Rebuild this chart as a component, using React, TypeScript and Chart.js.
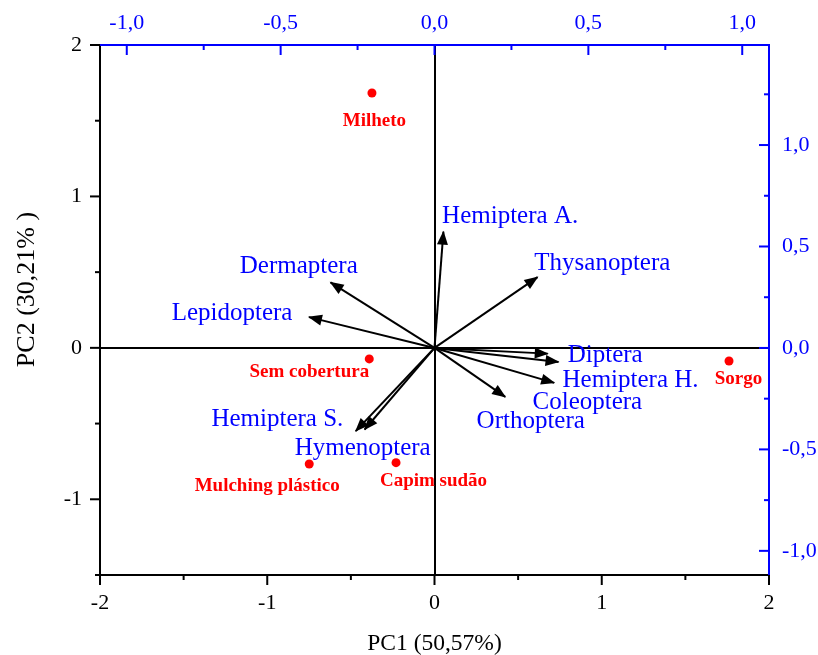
import React, { useEffect, useRef } from 'react';
import { Chart, registerables } from 'chart.js';

Chart.register(...registerables);

// ---- data ----
const treatments = ['Milheto', 'Sem cobertura', 'Sorgo', 'Mulching plástico', 'Capim sudão'];
const pc1Scores = [-0.374, -0.39, 1.761, -0.749, -0.23];
const pc2Scores = [1.683, -0.073, -0.087, -0.767, -0.758];

const variables = [
  'Hemiptera A.', 'Thysanoptera', 'Dermaptera', 'Lepidoptera', 'Diptera',
  'Coleoptera', 'Hemiptera H.', 'Orthoptera', 'Hemiptera S.', 'Hymenoptera',
];
const pc1Loadings = [0.029, 0.335, -0.338, -0.408, 0.368, 0.403, 0.389, 0.23, -0.256, -0.227];
const pc2Loadings = [0.573, 0.349, 0.323, 0.152, -0.028, -0.069, -0.172, -0.241, -0.41, -0.402];

const bottomTicks = [-2, -1, 0, 1, 2];
const leftTicks = [-1, 0, 1, 2];
const topTicks = [-1, -0.5, 0, 0.5, 1];
const rightTicks = [-1, -0.5, 0, 0.5, 1];

const xTitle = 'PC1 (50,57%)';
const yTitle = 'PC2 (30,21% )';

// ---- label placement (pixel offsets from mark) ----
const varLabelOffsets = [
  [-1.3, -9], [-3.3, -7.3], [-90.7, -9.7], [-137.3, 2.7], [20, 8.7],
  [-26, 47], [8.3, 4], [-28.7, 31], [-144.3, -5], [-70, 25],
];
const treatLabelOffsets = [[2.5, 33], [-60, 17.7], [9.5, 23.3], [-42, 26.7], [37.5, 23]];

const FONT = "'Liberation Serif', 'Times New Roman', serif";
const BLUE = '#0000ff';
const RED = '#ff0000';

function drawAxisTicks(ctx: CanvasRenderingContext2D, scale: any, step: number, major: number,
  edge: number, dir: number, color: string, horizontal: boolean) {
  const ratio = Math.round(major / step);
  const k0 = Math.ceil(scale.min / step - 1e-9);
  const k1 = Math.floor(scale.max / step + 1e-9);
  ctx.save();
  ctx.strokeStyle = color;
  ctx.lineWidth = 2;
  for (let k = k0; k <= k1; k++) {
    const v = k * step;
    const len = k % ratio === 0 ? 10 : 5;
    const p = scale.getPixelForValue(v);
    ctx.beginPath();
    if (horizontal) {
      ctx.moveTo(p, edge);
      ctx.lineTo(p, edge + dir * len);
    } else {
      ctx.moveTo(edge, p);
      ctx.lineTo(edge + dir * len, p);
    }
    ctx.stroke();
  }
  ctx.restore();
}

const annotate = {
  id: 'annotate',
  afterDatasetsDraw(chart: any) {
    const ctx = chart.ctx as CanvasRenderingContext2D;
    variables.forEach((_, i) => {
      const meta = chart.getDatasetMeta(i + 1);
      const p0 = meta.data[0];
      const p1 = meta.data[1];
      const ang = Math.atan2(p1.y - p0.y, p1.x - p0.x);
      ctx.save();
      ctx.fillStyle = '#000';
      ctx.translate(p1.x, p1.y);
      ctx.rotate(ang);
      ctx.beginPath();
      ctx.moveTo(1, 0);
      ctx.lineTo(-13, -5.5);
      ctx.lineTo(-13, 5.5);
      ctx.closePath();
      ctx.fill();
      ctx.restore();
    });
  },
  afterDraw(chart: any) {
    const ctx = chart.ctx as CanvasRenderingContext2D;
    const area = chart.chartArea;
    const s = chart.scales;
    drawAxisTicks(ctx, s.x, 0.5, 1, area.bottom, 1, '#000', true);
    drawAxisTicks(ctx, s.y, 0.5, 1, area.left, -1, '#000', false);
    drawAxisTicks(ctx, s.x2, 0.25, 0.5, area.top, 1, BLUE, true);
    drawAxisTicks(ctx, s.y2, 0.25, 0.5, area.right, -1, BLUE, false);

    // variable labels
    ctx.save();
    ctx.font = `25px ${FONT}`;
    ctx.fillStyle = BLUE;
    ctx.textAlign = 'left';
    ctx.textBaseline = 'alphabetic';
    variables.forEach((v, i) => {
      const tip = chart.getDatasetMeta(i + 1).data[1];
      ctx.fillText(v, tip.x + varLabelOffsets[i][0], tip.y + varLabelOffsets[i][1]);
    });
    ctx.restore();

    // treatment labels
    ctx.save();
    ctx.font = `bold 19px ${FONT}`;
    ctx.fillStyle = RED;
    ctx.textAlign = 'center';
    ctx.textBaseline = 'alphabetic';
    const pts = chart.getDatasetMeta(0).data;
    treatments.forEach((t, i) => {
      ctx.fillText(t, pts[i].x + treatLabelOffsets[i][0], pts[i].y + treatLabelOffsets[i][1]);
    });
    ctx.restore();

    // PC2 title
    ctx.save();
    ctx.font = `26px ${FONT}`;
    ctx.fillStyle = '#000';
    ctx.textAlign = 'center';
    ctx.textBaseline = 'alphabetic';
    ctx.translate(34, (area.top + area.bottom) / 2 - 20.5);
    ctx.rotate(-Math.PI / 2);
    ctx.fillText(yTitle, 0, 0);
    ctx.restore();
  },
};

const fmtInt = (v: number) => String(Math.round(v));
const fmtDec = (v: number) => (Math.abs(v) < 1e-9 ? 0 : v).toFixed(1).replace('.', ',');
const zeroLine = (c: any) => (c.tick && Math.abs(c.tick.value) < 1e-9 ? '#000' : 'rgba(0,0,0,0)');

export default function App() {
  const ref = useRef<HTMLCanvasElement>(null);
  useEffect(() => {
    document.body.style.margin = '0';
    const canvas = ref.current;
    if (!canvas) return;
    const datasets: any[] = [
      {
        label: 'Tratamentos',
        data: treatments.map((_, i) => ({ x: pc1Scores[i], y: pc2Scores[i] })),
        xAxisID: 'x',
        yAxisID: 'y',
        showLine: false,
        pointRadius: 4.5,
        pointHoverRadius: 4.5,
        pointBackgroundColor: RED,
        pointBorderWidth: 0,
        order: 0,
      },
    ];
    variables.forEach((v, i) => {
      datasets.push({
        label: v,
        data: [{ x: 0, y: 0 }, { x: pc1Loadings[i], y: pc2Loadings[i] }],
        xAxisID: 'x2',
        yAxisID: 'y2',
        showLine: true,
        borderColor: '#000',
        borderWidth: 2,
        pointRadius: 0,
        pointHoverRadius: 0,
        fill: false,
        order: 1,
      });
    });

    const chart = new Chart(canvas, {
      type: 'scatter',
      data: { datasets },
      options: {
        animation: false,
        responsive: true,
        maintainAspectRatio: false,
        devicePixelRatio: 1,
        layout: { padding: 0 },
        plugins: { legend: { display: false }, tooltip: { enabled: false } },
        events: [],
        scales: {
          x: {
            type: 'linear',
            position: 'bottom',
            min: -2,
            max: 2,
            afterBuildTicks: (sc: any) => { sc.ticks = bottomTicks.map((v) => ({ value: v })); },
            afterFit: (sc: any) => { sc.height = 80; },
            ticks: { callback: (v: any) => fmtInt(Number(v)), font: { family: FONT, size: 22 }, color: '#000', padding: 15, maxRotation: 0, autoSkip: false },
            grid: { drawTicks: false, color: zeroLine, lineWidth: 2 },
            border: { display: true, color: '#000', width: 2 },
            title: { display: true, text: xTitle, color: '#000', font: { family: FONT, size: 23.5, lineHeight: 0.94 }, padding: { top: 0, bottom: 0 } },
          },
          y: {
            type: 'linear',
            position: 'left',
            min: -1.5,
            max: 2,
            afterBuildTicks: (sc: any) => { sc.ticks = leftTicks.map((v) => ({ value: v })); },
            afterFit: (sc: any) => { sc.width = 100; },
            ticks: { callback: (v: any) => fmtInt(Number(v)), font: { family: FONT, size: 22 }, color: '#000', padding: 18, autoSkip: false },
            grid: { drawTicks: false, color: zeroLine, lineWidth: 2 },
            border: { display: true, color: '#000', width: 2 },
          },
          x2: {
            type: 'linear',
            position: 'top',
            min: -1.087,
            max: 1.087,
            afterBuildTicks: (sc: any) => { sc.ticks = topTicks.map((v) => ({ value: v })); },
            afterFit: (sc: any) => { sc.height = 45; },
            ticks: { callback: (v: any) => fmtDec(Number(v)), font: { family: FONT, size: 22 }, color: BLUE, padding: 9, maxRotation: 0, autoSkip: false },
            grid: { drawTicks: false, color: 'rgba(0,0,0,0)', drawOnChartArea: false },
            border: { display: true, color: BLUE, width: 2 },
          },
          y2: {
            type: 'linear',
            position: 'right',
            min: -1.119,
            max: 1.493,
            afterBuildTicks: (sc: any) => { sc.ticks = rightTicks.map((v) => ({ value: v })); },
            afterFit: (sc: any) => { sc.width = 49; },
            ticks: { callback: (v: any) => fmtDec(Number(v)), font: { family: FONT, size: 22 }, color: BLUE, padding: 13, autoSkip: false },
            grid: { drawTicks: false, color: 'rgba(0,0,0,0)', drawOnChartArea: false },
            border: { display: true, color: BLUE, width: 2 },
          },
        },
      } as any,
      plugins: [annotate],
    });
    return () => chart.destroy();
  }, []);

  return (
    <div style={{ width: 818, height: 655, position: 'relative' }}>
      <canvas ref={ref} />
    </div>
  );
}
